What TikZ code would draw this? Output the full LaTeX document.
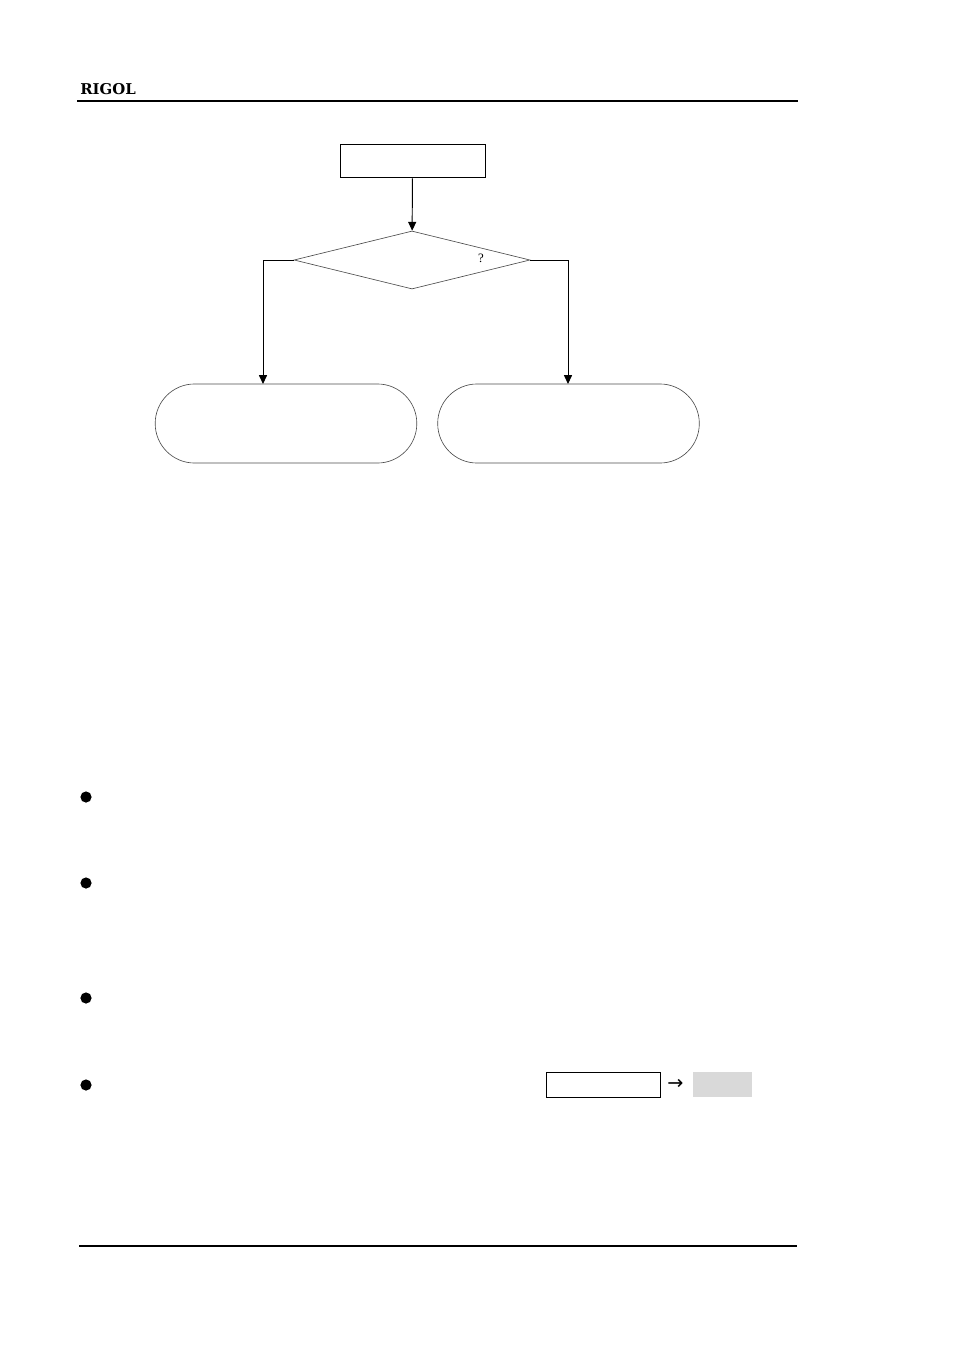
\documentclass[tikz,border=0pt]{standalone}
\usepackage{fontspec}
\setmainfont{Liberation Serif}
\newfontfamily\brandfont{DejaVu Serif}
\newfontfamily\symfont{DejaVu Sans}
\usetikzlibrary{arrows.meta,shapes.geometric}

\begin{document}
\begin{tikzpicture}[x=0.625pt, y=-0.625pt,
        flow/.style={line width=0.6pt, -{Triangle[length=5.5pt, width=5pt]}},
        stepbox/.style={draw=black, line width=0.6pt, minimum width=90.6pt, minimum height=21.2pt, inner sep=0pt},
        decision/.style={diamond, draw=black!70, line width=0.4pt, inner sep=0pt, aspect=4.07, minimum width=147.5pt, minimum height=36.25pt},
        ending/.style={draw=black!70, line width=0.4pt, rounded corners=24.6pt, minimum width=163.5pt, minimum height=49.4pt, inner sep=0pt},
        dot/.style={circle, fill=black, inner sep=0pt, minimum size=7pt}]
        \useasboundingbox (0,0) rectangle (954,1348);

        % header and footer
        \node[anchor=base west, inner sep=0pt, font=\brandfont\fontsize{9.3}{11}\selectfont\bfseries] (brand) at (80,95) {RIGOL};
        \draw[line width=0.7pt] (77,101) -- (798,101);
        \draw[line width=1.3pt] (79,1246) -- (797,1246);

        % flow chart
        \node[stepbox] (start) at (412.5,161) {};
        \node[decision] (check) at (412,260) {};
        \node[font=\fontsize{8}{10}\selectfont] (mark) at (481,258) {?};
        \node[ending] (left) at (286,423.5) {};
        \node[ending] (right) at (568.5,423.5) {};
        \coordinate (leftin) at (263,384);
        \coordinate (rightin) at (568,384);

        \draw[flow] (start) -- (check);
        \draw[flow] (check.west) -| (leftin);
        \draw[flow] (check.east) -| (rightin);

        % bullets
        \node[dot] (b1) at (86,797) {};
        \node[dot] (b2) at (86,883) {};
        \node[dot] (b3) at (86,998) {};
        \node[dot] (b4) at (86,1085) {};

        % key path
        \node[draw=black, line width=0.6pt, minimum width=71.6pt, minimum height=15.6pt, inner sep=0pt] (key) at (603.5,1084.5) {};
        \node[font=\symfont\fontsize{12}{14}\selectfont, inner sep=0pt] (to) at (675.5,1084.5) {→};
        \node[fill=black!15, minimum width=37pt, minimum height=15.6pt, inner sep=0pt] (soft) at (722.5,1084.5) {};
    \end{tikzpicture}
\end{document}
